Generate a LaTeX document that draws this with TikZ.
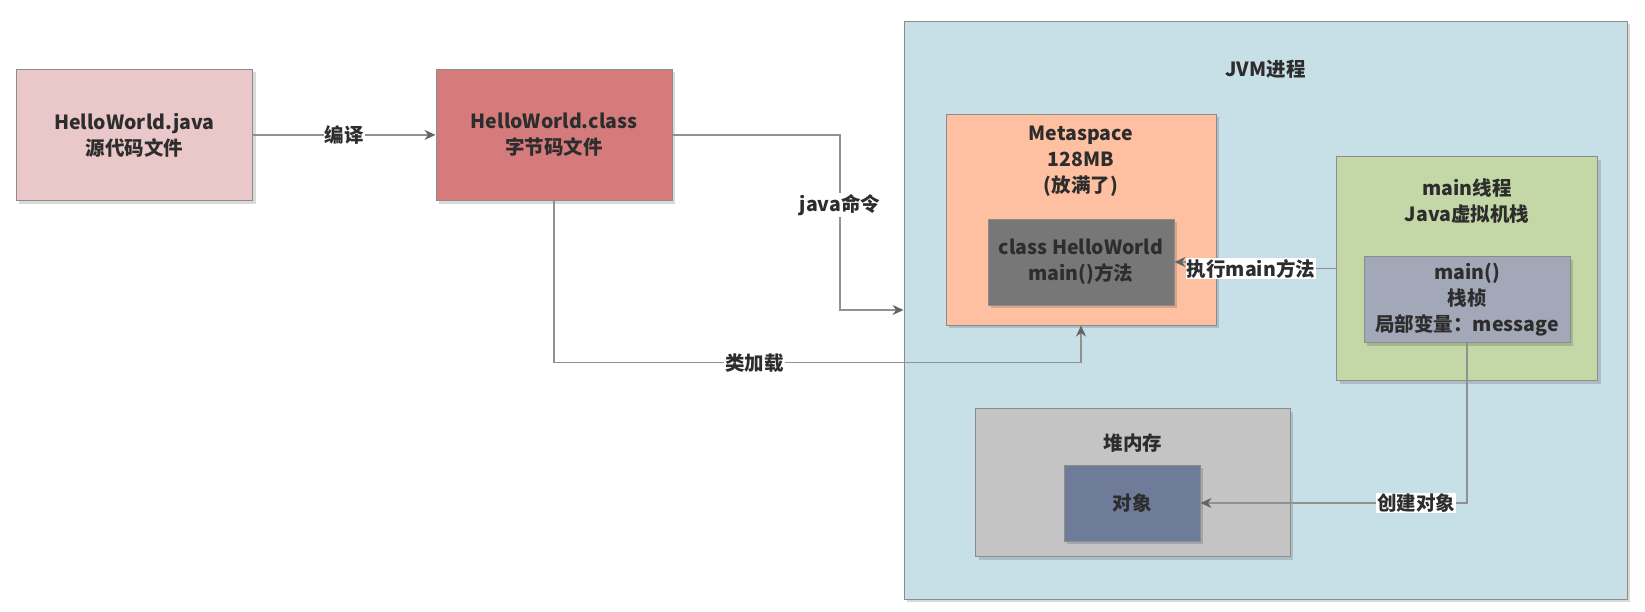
\documentclass[tikz,border=0pt]{standalone}
\usepackage{fontspec}
\setmainfont{Noto Sans CJK SC}
\usetikzlibrary{arrows.meta,shadows}

\definecolor{txt}{RGB}{45,45,45}
\definecolor{edge}{RGB}{140,140,140}
\definecolor{wire}{RGB}{145,145,145}
\definecolor{tipc}{RGB}{100,100,100}
\definecolor{srcfill}{RGB}{234,199,201}
\definecolor{classfill}{RGB}{213,123,124}
\definecolor{jvmfill}{RGB}{199,224,232}
\definecolor{metafill}{RGB}{255,192,162}
\definecolor{codefill}{RGB}{119,119,119}
\definecolor{threadfill}{RGB}{195,216,166}
\definecolor{framefill}{RGB}{163,168,184}
\definecolor{heapfill}{RGB}{196,196,196}
\definecolor{objfill}{RGB}{110,123,153}

\begin{document}
\begin{tikzpicture}[x=1pt,y=-1pt]
   \tikzstyle{every node}=[text=txt, font=\fontsize{19.5}{26}\selectfont\bfseries]
   \tikzstyle{box}=[draw=edge, line width=1pt, align=center, inner sep=0pt, drop shadow={shadow xshift=3pt, shadow yshift=-3pt, opacity=0.15, fill=black}]
   \tikzstyle{lbl}=[fill=white, inner sep=1pt]
   \tikzstyle{link}=[draw=wire, line width=1.3pt, -{Stealth[length=11pt, width=10pt, color=tipc]}]

\useasboundingbox (0,0) rectangle (1645,611);

% source and bytecode
\node[box, fill=srcfill, minimum width=236.6, minimum height=131.7] (java) at (134.3,134.9) {HelloWorld.java\\源代码文件};
\node[box, fill=classfill, minimum width=236, minimum height=131.7] (bytecode) at (554,134.9) {HelloWorld.class\\字节码文件};

% JVM process
\node[box, fill=jvmfill, minimum width=723, minimum height=578] (jvm) at (1265.5,310) {};
\node (jvmtitle) at (1265.5,69.3) {JVM进程};

\node[box, fill=metafill, minimum width=270, minimum height=210.7] (meta) at (1081,219.7) {};
\node[align=center] (metatitle) at (1081,161) {Metaspace\\128MB\\(放满了)};
\node[box, fill=codefill, minimum width=186, minimum height=86] (code) at (1081,262) {class HelloWorld\\main()方法};

\node[box, fill=threadfill, minimum width=261, minimum height=224] (thread) at (1467,268.7) {};
\node[align=center] (threadtitle) at (1467,201.4) {main线程\\Java虚拟机栈};
\node[box, fill=framefill, minimum width=206, minimum height=86] (frame) at (1467,299.7) {main()\\栈桢\\局部变量：message};

\node[box, fill=heapfill, minimum width=314.4, minimum height=147.7] (heap) at (1132.8,482.8) {};
\node (heaptitle) at (1132.8,443.3) {堆内存};
\node[box, fill=objfill, minimum width=136, minimum height=76] (obj) at (1132,503) {对象};

% connectors
\draw[link] (java) -- node[lbl] {编译} (bytecode);
\draw[link] (bytecode.east) -- (840,134.9) |- node[lbl, pos=0.2] {java命令} (jvm.west);
\draw[link] (bytecode.south) -- (554,362.7) -| node[lbl, pos=0.19] {类加载} (meta.south);
\draw[link] (thread.west) -- (1251,268.7) node[lbl] {执行main方法} |- (code.east);
\draw[link] (frame.south) |- node[lbl, pos=0.595] {创建对象} (obj.east);

\end{tikzpicture}
\end{document}
